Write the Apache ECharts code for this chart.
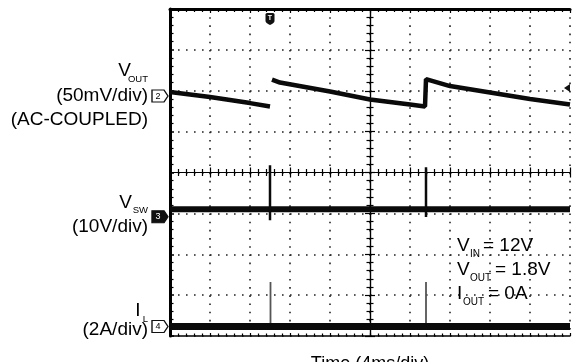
<!DOCTYPE html>
<html><head><meta charset="utf-8">
<script src="https://cdn.jsdelivr.net/npm/echarts@6.0.0/dist/echarts.min.js"></script>
<style>html,body{margin:0;padding:0;background:#fff}#c{width:572px;height:362px}</style>
</head><body><div id="c"></div>
<script>
// ---- data (time in ms, 4 ms/div) ----
const timeTicksMs = [0, 4, 8, 12, 16, 20, 24, 28, 32, 36, 40];
// V_OUT (AC-coupled), mV ; '-' marks the break at the first jump
const voutTimeMs = [0, 4, 8, 10, 10.1, 10.2, 11, 16, 20, 24, 25.5, 25.6, 28, 32, 36, 40];
const voutMv     = [4.9, -1.2, -8.6, -12.8, '-', 20.2, 16.5, 5.5, -4.3, -10.4, -12.8, 20.8, 12.2, 4.3, -3.7, -10.4];
// V_SW, V
const vswBaseTimeMs = [0, 40];
const vswBaseV = [1.8, 1.8];
const vswSpikeTimeMs = [10, 25.6];
const vswSpikeHighV = [12.6, 12.1];
const vswSpikeLowV = [-0.9, -0.1];
// I_L, A
const ilBaseTimeMs = [0, 40];
const ilBaseA = [0, 0];
const ilSpikeTimeMs = [10.05, 25.6];
const ilSpikePeakA = [2.18, 2.18];
// trigger
const triggerTimeMs = 10;
const triggerLevelMv = 10;

// ---- channel scales ----
const VOUT_PER_DIV = 50, VSW_PER_DIV = 10, IL_PER_DIV = 2;
const VOUT_GND_DIV = 1.87, VSW_GND_DIV = -1.08, IL_GND_DIV = -3.77;
function range(perDiv, gnd) { return { min: (-4 - gnd) * perDiv, max: (4 - gnd) * perDiv }; }
const rVout = range(VOUT_PER_DIV, VOUT_GND_DIV);
const rVsw = range(VSW_PER_DIV, VSW_GND_DIV);
const rIl = range(IL_PER_DIV, IL_GND_DIV);

const zip = (a, b) => a.map((v, i) => [v, b[i]]);
function spikes(t, hi, lo) {
  const out = [];
  t.forEach((v, i) => { out.push([v, hi[i]], [v, lo[i]], [v, '-']); });
  return out;
}

const FONT = '"Liberation Sans", Arial, sans-serif';
const BLACK = '#000';

const gridLeft = 170, gridTop = 9, gridW = 400, gridH = 327;

function xAx(extra) {
  return Object.assign({
    type: 'value', min: 0, max: 40, interval: 4, gridIndex: 0,
    axisLabel: { show: false }, splitLine: { show: false },
    axisLine: { show: true, onZero: false, lineStyle: { color: BLACK, width: 1.2 } },
    axisTick: { show: true, inside: true, length: 5, lineStyle: { color: BLACK, width: 1.2 } },
    minorTick: { show: true, splitNumber: 5, length: 3.5, lineStyle: { color: BLACK, width: 1.2 } }
  }, extra);
}
function yAx(extra) {
  return Object.assign({
    type: 'value', min: -4, max: 4, interval: 1, gridIndex: 0,
    axisLabel: { show: false }, splitLine: { show: false },
    axisLine: { show: true, onZero: false, lineStyle: { color: BLACK, width: 1.2 } },
    axisTick: { show: true, inside: true, length: 5, lineStyle: { color: BLACK, width: 1.2 } },
    minorTick: { show: true, splitNumber: 5, length: 3.5, lineStyle: { color: BLACK, width: 1.2 } }
  }, extra);
}
const hiddenY = (r) => ({ type: 'value', min: r.min, max: r.max, show: false, gridIndex: 0,
  axisLine: { onZero: false }, splitLine: { show: false } });

function txt(x, y, text, size, align, vAlign) {
  return { type: 'text', x: x, y: y, z: 50, silent: true,
    style: { text: text, font: size + 'px ' + FONT, fill: BLACK,
      textAlign: align || 'left', textVerticalAlign: vAlign || 'middle' } };
}

const chMarker = (label, filled) => ({
  coord: [0, 0],
  symbol: 'path://M0,0 L12,0 L16,5.5 L12,11 L0,11 Z',
  symbolSize: [16, 12],
  symbolOffset: [-10, 0],
  itemStyle: { color: filled ? '#111' : '#fff', borderColor: '#111', borderWidth: 1.2 },
  label: { show: true, position: 'inside', formatter: label, fontSize: 9, fontFamily: FONT,
    color: filled ? '#fff' : '#000', offset: [-2, 0] }
});

const option = {
  animation: false,
  backgroundColor: '#fff',
  grid: { left: gridLeft, top: gridTop, width: gridW, height: gridH, containLabel: false, outerBoundsMode: 'none' },
  xAxis: [
    xAx({ position: 'bottom', axisLine: { show: true, onZero: false, lineStyle: { color: BLACK, width: 1.5 } },
      axisTick: { show: true, inside: true, length: 3, lineStyle: { color: BLACK, width: 1.2 } },
      minorTick: { show: true, splitNumber: 5, length: 2.5, lineStyle: { color: BLACK, width: 1.2 } },
      splitLine: { show: true, lineStyle: { color: '#222', width: 1.6, type: [1.6, 6.58] } } }),
    xAx({ position: 'top', axisLine: { show: true, onZero: false, lineStyle: { color: BLACK, width: 3 } },
      axisTick: { show: true, inside: true, length: 4, lineStyle: { color: BLACK, width: 1.2 } },
      minorTick: { show: true, splitNumber: 5, length: 3, lineStyle: { color: BLACK, width: 1.2 } } }),
    xAx({ position: 'bottom', offset: -gridH / 2 }),
    xAx({ position: 'top', offset: -gridH / 2 })
  ],
  yAxis: [
    yAx({ position: 'left', axisLine: { show: true, onZero: false, lineStyle: { color: BLACK, width: 3 } },
      axisTick: { show: true, inside: true, length: 4, lineStyle: { color: BLACK, width: 1.5 } },
      minorTick: { show: true, splitNumber: 5, length: 3.5, lineStyle: { color: BLACK, width: 1.2 } },
      splitLine: { show: true, lineStyle: { color: '#222', width: 1.6, type: [1.6, 6.4] } } }),
    yAx({ position: 'left', offset: -gridW / 2 }),
    yAx({ position: 'right', offset: -gridW / 2 }),
    hiddenY(rVout),
    hiddenY(rVsw),
    hiddenY(rIl)
  ],
  series: [
    { name: 'VOUT', type: 'line', xAxisIndex: 0, yAxisIndex: 3, data: zip(voutTimeMs, voutMv),
      symbol: 'none', connectNulls: false, z: 5,
      lineStyle: { color: '#0a0a0a', width: 4.5 },
      markPoint: { silent: true, z: 20, data: [
        chMarker('2', false),
        { coord: [triggerTimeMs, rVout.max], symbol: 'path://M1.5,0 L7.5,0 Q9,0 9,1.5 L9,8 Q9,10 4.5,12 Q0,10 0,8 L0,1.5 Q0,0 1.5,0 Z',
          symbolSize: [9, 12], symbolOffset: [0, 10], itemStyle: { color: '#111' },
          label: { show: true, position: 'inside', formatter: 'T', fontSize: 7, fontWeight: 'bold', color: '#fff', fontFamily: FONT, offset: [0, -1] } },
        { coord: [40, triggerLevelMv], symbol: 'triangle', symbolRotate: 90, symbolSize: [8, 6],
          symbolOffset: [-3, 0], itemStyle: { color: '#111' }, label: { show: false } }
      ] } },
    { name: 'VSW', type: 'line', xAxisIndex: 0, yAxisIndex: 4, data: zip(vswBaseTimeMs, vswBaseV),
      symbol: 'none', z: 5, lineStyle: { color: '#0a0a0a', width: 6 },
      markPoint: { silent: true, z: 20, data: [chMarker('3', true)] } },
    { name: 'VSW spikes', type: 'line', xAxisIndex: 0, yAxisIndex: 4,
      data: spikes(vswSpikeTimeMs, vswSpikeHighV, vswSpikeLowV),
      symbol: 'none', connectNulls: false, z: 6, lineStyle: { color: '#0a0a0a', width: 2.5 } },
    { name: 'IL spikes', type: 'line', xAxisIndex: 0, yAxisIndex: 5,
      data: spikes(ilSpikeTimeMs, ilSpikePeakA, ilBaseA),
      symbol: 'none', connectNulls: false, z: 5, lineStyle: { color: '#555', width: 1.8 } },
    { name: 'IL', type: 'line', xAxisIndex: 0, yAxisIndex: 5, data: zip(ilBaseTimeMs, ilBaseA),
      symbol: 'none', z: 6, lineStyle: { color: '#0a0a0a', width: 7 },
      markPoint: { silent: true, z: 20, data: [chMarker('4', false)] } }
  ],
  graphic: [
    txt(131, 71, 'V', 19, 'right'), txt(148, 79.5, 'OUT', 9.5, 'right'),
    txt(148, 95.5, '(50mV/div)', 19, 'right'),
    txt(148, 119.5, '(AC-COUPLED)', 19, 'right'),
    txt(132, 202.5, 'V', 19, 'right'), txt(148, 210, 'SW', 9.5, 'right'),
    txt(148, 226.5, '(10V/div)', 19, 'right'),
    txt(140.5, 310.5, 'I', 19, 'right'), txt(148, 319.5, 'L', 9.5, 'right'),
    txt(148, 330, '(2A/div)', 19, 'right'),
    txt(457, 246, 'V', 19), txt(470, 254.5, 'IN', 10), txt(483, 246, '= 12V', 19),
    txt(457, 269.5, 'V', 19), txt(470, 278, 'OUT', 10), txt(495, 269.5, '= 1.8V', 19),
    txt(457, 293.5, 'I', 19), txt(463, 302, 'OUT', 10), txt(488, 293.5, '= 0A', 19),
    txt(370, 355, 'Time (4ms/div)', 18, 'center', 'top')
  ]
};

const chart = echarts.init(document.getElementById('c'), null, { renderer: 'canvas', devicePixelRatio: 1 });
chart.setOption(option);
</script>
</body></html>
